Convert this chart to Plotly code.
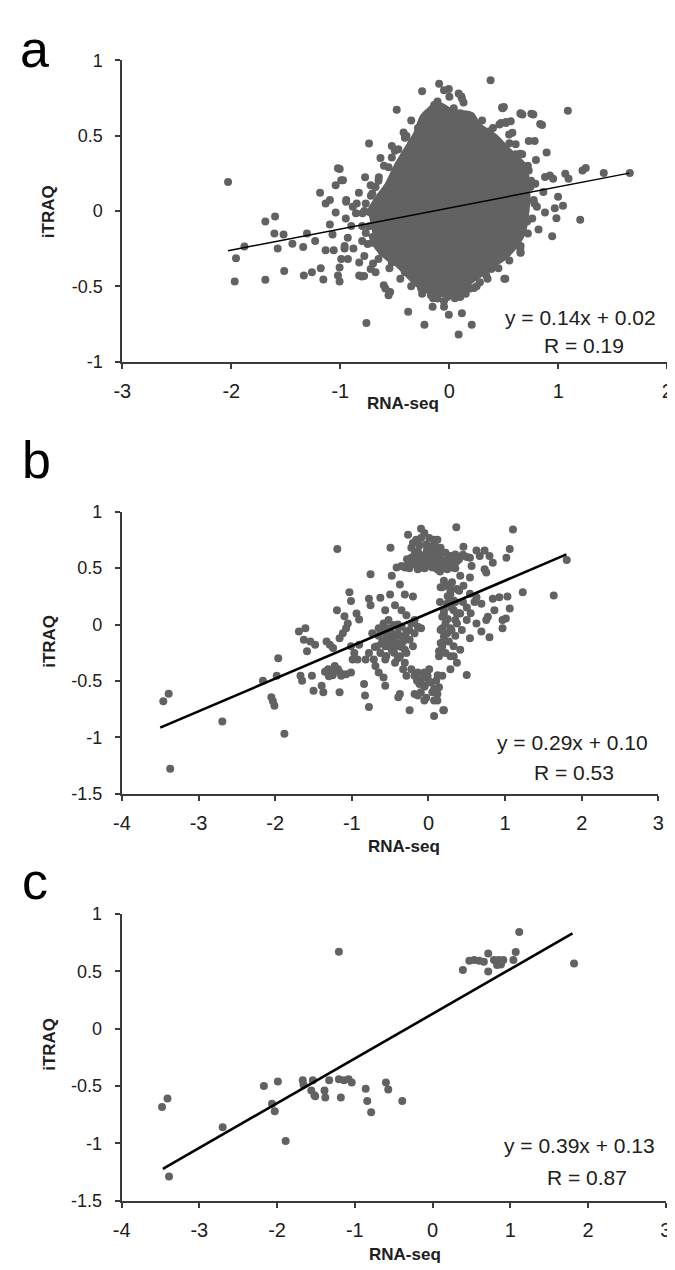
import plotly.graph_objects as go

W, H = 675, 1270

# ---------------- data ----------------
# Panel a : points around the dense cloud
a_x = [-2.03, -1.957, -1.969, -1.88, -1.688, -1.599, -1.605, -1.521, -1.575, -1.688, -1.515, -1.44,
       -1.341, -1.306, -1.231, -1.335, -1.261, -1.18, -1.156, -1.186, -1.135, -1.096, -1.022, -0.992,
       -1.043, -1.043, -1.096, -1.072, -1.135, -1.061, -0.992, -1.007, -1.022, -1.007, -0.962, -0.947,
       -0.932,
       0.378, -0.094, -0.25, -0.049, 0.0, 0.085, 0.115, -0.483, 0.489, 0.653, -0.737, -0.632, -0.528,
       -0.393, -0.773, -0.722, -0.946, -0.803, -0.602, -0.543, -0.378, -0.761, -0.229, -0.154, -0.049,
       -0.005, 0.085, 0.115, 0.205, 0.1, 0.504, 0.653, 0.226,
       0.483, 0.653, 0.752, 1.087, 0.563, 0.519, 0.474, 0.833, 0.578, 0.728, 0.782, 0.892, 0.794,
       1.221, 1.251, 1.416, 1.655, 1.063, 1.093, 0.877, 0.922, 0.952, 0.788, 0.862, 0.997, 1.042,
       0.967, 0.773, 0.803, 0.877, 0.982, 1.2, 0.713, 0.818, 0.943, 0.653, 0.653, 0.513,
       -0.005, 0.11, 0.13, 0.67, 0.77, 0.85, 0.5,
       -1.006, -0.976, -0.886, -0.857, -0.961, -0.931, -0.827, -0.827, -0.782, -0.722, -0.677,
       -0.587, -0.558, -0.408, -0.259, -0.169, -0.109, -0.019, 0.13, 0.19, 0.28, 0.339, 0.384,
       -0.288, -0.244, -0.199, -0.139, -0.109, -0.064, 0.04, 0.1, 0.145, 0.25, 0.28, 0.369, 0.459,
       0.519, 0.548, 0.608, 0.668, -0.408, -0.348, -0.468, -0.528, -0.558, -0.647, -0.677, -0.707,
       -0.767, -0.797, -0.737, -0.767, -0.707, -0.617, -0.528,
       0.608, 0.728, 0.743, 0.698, 0.608, 0.489,
       -0.9, -0.85, -0.8, -0.88, -0.95, -0.83, -0.78, -0.7, -0.65, -0.6, -0.5, -0.42, -0.35, 0.3,
       0.4, 0.55, 0.65, 0.72, 0.75, 0.78, 0.76, 0.72, 0.65, 0.55, 0.45, 0.35, 0.25, 0.15, 0.05,
       -0.05, -0.15, -0.25, -0.35, -0.45, -0.55, -0.65, -0.75, -0.8, -0.78, -0.72]
a_y = [0.192, -0.314, -0.468, -0.237, -0.07, -0.037, -0.15, -0.157, -0.25, -0.457, -0.399, -0.218,
       -0.24, -0.15, -0.2, -0.429, -0.407, -0.381, -0.455, 0.12, 0.05, 0.072, 0.283, 0.203,
       0.17, -0.011, -0.091, -0.157, -0.261, -0.261, -0.32, -0.375, -0.429, -0.468, -0.25, 0.061,
       -0.179,
       0.867, 0.845, 0.795, 0.802, 0.758, 0.78, 0.747, 0.671, 0.682, 0.649, 0.447, 0.351, 0.431,
       0.497, 0.224, 0.17, 0.072, -0.436, -0.494, -0.538, -0.669, -0.745, -0.756, -0.636, -0.636,
       -0.69, -0.821, -0.68, -0.756, -0.571, -0.451, -0.277, -0.512,
       0.686, 0.645, 0.645, 0.665, 0.595, 0.59, 0.584, 0.577, 0.519, 0.464, 0.464, 0.388, 0.338,
       0.268, 0.285, 0.251, 0.251, 0.246, 0.214, 0.225, 0.235, 0.214, 0.181, 0.126, 0.094, 0.035,
       0.018, 0.072, 0.028, -0.011, -0.048, -0.059, -0.07, -0.124, -0.168, -0.233, -0.277, -0.451,
       0.81, 0.76, 0.72, 0.64, 0.64, 0.57, 0.69,
       0.279, 0.203, 0.028, -0.015, -0.233, -0.32, -0.342, -0.429, -0.433, -0.386, -0.407,
       -0.516, -0.56, -0.407, -0.516, -0.56, -0.582, -0.571, -0.538, -0.516, -0.473, -0.429, -0.386,
       0.551, 0.606, 0.638, 0.704, 0.726, 0.682, 0.682, 0.649, 0.638, 0.573, 0.551, 0.529, 0.573,
       0.584, 0.508, 0.442, 0.377, 0.486, 0.453, 0.41, 0.355, 0.29, 0.224, 0.159, 0.116,
       0.05, -0.015, -0.102, -0.146, -0.211, -0.277, -0.342,
       0.377, 0.268, 0.159, 0.05, -0.102, -0.233,
       -0.1, 0.05, -0.2, -0.25, -0.05, 0.12, -0.3, -0.35, 0.2, 0.3, 0.4, 0.52, 0.6, 0.6,
       0.55, 0.45, 0.38, 0.3, 0.2, 0.05, -0.05, -0.15, -0.25, -0.33, -0.38, -0.45, -0.5, -0.55, -0.58,
       -0.6, -0.58, -0.55, -0.5, -0.45, -0.38, -0.32, -0.22, -0.1, 0.0, 0.1]

# Panel a : outline of the solid, densely packed core of the cloud
a_core_x = [-0.737, -0.647, -0.558, -0.468, -0.378, -0.288, -0.229, -0.169, -0.109, -0.019, 0.07,
            0.19, 0.25, 0.309, 0.399, 0.489, 0.578, 0.668, 0.698, 0.683, 0.653, 0.578, 0.489,
            0.399, 0.28, 0.19, 0.1, -0.019, -0.109, -0.199, -0.288, -0.378, -0.468, -0.558,
            -0.647, -0.707]
a_core_y = [-0.037, 0.072, 0.159, 0.29, 0.399, 0.508, 0.617, 0.66, 0.693, 0.66, 0.638, 0.627,
            0.551, 0.529, 0.486, 0.421, 0.355, 0.29, 0.116, -0.037, -0.146, -0.233, -0.298,
            -0.342, -0.407, -0.451, -0.516, -0.538, -0.538, -0.516, -0.473, -0.407, -0.342, -0.298,
            -0.233, -0.146]

# Panel b
b_x = [-3.46, -3.39, -3.37, -2.69, -2.16, -1.96, -1.98, -2.05, -2.03, -2.01, -1.88,
       -0.224, -0.182, -0.139, -0.118, -0.054, 0.009, 0.073, 0.137, 0.201, 0.265, 0.328, 0.371,
       -0.309, -0.246, -0.182, -0.139, -0.076, -0.012, 0.052, 0.116, 0.18, 0.243, 0.307,
       -0.203, -0.161, -0.033, 0.031, 0.095, 0.158, 0.222, 0.286, 0.35, -0.097, -0.224, -0.267,
       0.009, 0.073, -0.416, -0.352,
       0.201, 0.243, 0.286, 0.328, 0.265, 0.201, 0.18, 0.222, 0.286, 0.35, 0.371, 0.158, 0.201,
       0.265, 0.328, 0.18, 0.222, 0.286, 0.371, 0.137,
       -0.734, -0.65, -0.586, -0.522, -0.458, -0.394, -0.479, -0.543, -0.607, -0.671, -0.628,
       -0.564, -0.479, -0.416, -0.352, -0.288, -0.246, -0.203, -0.309, -0.373, -0.437, -0.713,
       -0.777, -0.82, -0.692, -0.65, -0.586, -0.564, -0.841, -0.828, -0.777, -0.394, -0.373,
       -0.246, -0.182, -0.139, -0.097, -0.054, -0.012, 0.031, 0.073, 0.009, -0.054, -0.118,
       -0.182, -0.224, -0.309, -0.331, -0.288, 0.073, 0.116, 0.201, 0.073, -0.054, -0.139,
       -0.288, -0.182, -0.139, -0.097, -0.224, -0.182, -0.522, -0.437, -0.394, -0.564, -0.501,
       -0.458, -0.331,
       -1.691, -1.606, -1.627, -1.542, -1.479, -1.585, -1.33, -1.287, -1.245, -1.16, -1.117,
       -1.075, -1.011, -0.968, -0.99, -0.905, -1.309, -1.245, -1.181, -1.138, -1.075, -1.011,
       -1.223, -1.67, -1.649, -1.521, -1.5, -1.394, -1.372, -1.16, -0.926,
       -0.756, -1.032, -1.011, -1.194, -1.096, -1.053, -0.939, -0.905, -0.777, -0.756, -0.628,
       -0.501, -0.479, -0.373, -0.309, -0.203, -0.565, -0.437, -0.352, -0.288, -0.496, -0.267,
       -0.097, -0.054, 0.009, 0.073, -1.19, 0.158,
       0.363, 1.102, 1.06, 1.017, 0.456, 0.626, 0.732, 0.669, 0.796, 0.839, 0.541, 0.562, 0.435,
       0.371, 0.286, 0.2, 0.137, 0.116, 0.732, 0.754, 0.414, 0.541, 0.307, 0.18, 0.286, 0.371,
       0.456, 0.541, 0.626, 0.69, 0.839, 0.924, 1.03, 1.06, 1.23, 1.634, 1.804, 0.86, 0.775,
       0.754, 0.966, 1.009, 0.966, 0.796, 0.69, 0.626, 0.541, 0.499, 0.414, 0.329, 0.244, 0.201,
       0.18, 0.244, 0.435, 0.159, 0.414, 0.329, 0.286, 0.499, 0.18, 0.137, 0.116, 0.193, 0.137,
       0.371,
       -0.28, -0.2, -0.1, 0.0, 0.1, 0.2, 0.3, -0.15, -0.05, 0.05, 0.15, 0.25, -0.25, -0.05, 0.15,
       0.35, 0.4, 0.45, 0.5, -0.12, -0.02, 0.08,
       -0.6, -0.55, -0.5, -0.45, -0.4, -0.35, -0.3, -0.5, -0.45, -0.6, -0.65, -0.7, -0.35, -0.25,
       -0.4, -0.55, -0.4,
       0.25, 0.3, 0.35, 0.4, 0.45, 0.5, 0.25, 0.3, 0.2, 0.15, 0.4, 0.55, 0.6, 0.35, 0.28,
       -0.15, -0.05, 0.05, 0.0, -0.1, 0.1, -0.03, 0.12,
       -1.35, -1.25, -1.15, -1.3]
b_y = [-0.68, -0.615, -1.28, -0.86, -0.50, -0.30, -0.455, -0.645, -0.68, -0.72, -0.97,
       0.68, 0.622, 0.651, 0.593, 0.563, 0.593, 0.549, 0.534, 0.549, 0.534, 0.549, 0.563,
       0.505, 0.52, 0.534, 0.491, 0.505, 0.52, 0.505, 0.491, 0.505, 0.491, 0.505,
       0.724, 0.753, 0.709, 0.694, 0.651, 0.68, 0.636, 0.607, 0.622, 0.767, 0.593, 0.563,
       0.636, 0.607, 0.505, 0.52,
       0.389, 0.345, 0.272, 0.214, 0.185, 0.127, 0.069, 0.01, -0.033, 0.039, 0.098, -0.048, -0.106,
       -0.15, -0.193, -0.193, -0.252, -0.281, -0.339, -0.281,
       -0.077, -0.033, 0.01, 0.039, -0.004, -0.019, -0.077, -0.121, -0.164, -0.193, -0.252,
       -0.31, -0.223, -0.164, -0.106, -0.062, -0.135, -0.193, -0.223, -0.281, -0.339, -0.31,
       -0.252, -0.31, -0.368, -0.426, -0.47, -0.543, -0.528, -0.63, -0.732, -0.645, -0.616,
       -0.761, -0.616, -0.426, -0.485, -0.543, -0.455, -0.514, -0.572, -0.397, -0.426, -0.528,
       -0.455, -0.397, -0.339, -0.397, -0.455, -0.674, -0.616, -0.761, -0.811, -0.674, -0.63,
       -0.252, -0.077, -0.019, -0.033, 0.01, 0.039, -0.033, -0.106, -0.193, -0.193, -0.164,
       -0.135, -0.15,
       -0.062, -0.033, -0.135, -0.15, -0.179, -0.237, -0.15, -0.179, -0.208, -0.121, -0.077,
       -0.033, -0.193, -0.252, -0.31, -0.179, -0.397, -0.426, -0.397, -0.455, -0.441, -0.426,
       -0.368, -0.455, -0.499, -0.455, -0.587, -0.543, -0.601, -0.601, -0.31,
       0.447, 0.287, 0.208, 0.127, 0.074, 0.01, 0.098, 0.045, 0.229, 0.17, 0.237,
       0.266, 0.432, 0.354, 0.266, 0.249, 0.127, 0.17, 0.127, 0.083, 0.68, 0.796,
       0.849, 0.811, 0.767, 0.753, 0.671, 0.331,
       0.863, 0.843, 0.671, 0.593, 0.689, 0.657, 0.657, 0.607, 0.607, 0.549, 0.593, 0.52, 0.607,
       0.563, 0.534, 0.563, 0.622, 0.753, 0.491, 0.462, 0.432, 0.418, 0.374, 0.331, 0.301, 0.316,
       0.345, 0.272, 0.243, 0.185, 0.229, 0.243, 0.249, 0.141, 0.287, 0.258, 0.572, 0.127, 0.069,
       0.04, 0.04, 0.054, -0.033, -0.112, -0.062, 0.01, -0.121, 0.04, 0.098, 0.127, 0.185, 0.098,
       -0.033, -0.077, -0.048, -0.164, -0.223, -0.281, -0.397, -0.447, -0.455, -0.557, -0.674,
       -0.761, -0.237, 0.01,
       0.58, 0.56, 0.55, 0.55, 0.56, 0.52, 0.52, 0.6, 0.62, 0.6, 0.59, 0.58, 0.5, 0.5, 0.47,
       0.5, 0.58, 0.62, 0.6, 0.7, 0.66, 0.7,
       -0.05, -0.1, -0.05, -0.12, -0.08, -0.02, -0.1, -0.2, -0.25, -0.15, -0.1, -0.2, -0.2, -0.05,
       0.0, -0.28, -0.3,
       0.25, 0.15, 0.2, 0.1, 0.2, 0.15, 0.05, -0.05, -0.15, 0.2, 0.3, 0.1, 0.2, -0.1, 0.35,
       -0.5, -0.55, -0.6, -0.5, -0.6, -0.5, -0.65, -0.45,
       -0.42, -0.45, -0.43, -0.46]

# Panel c
c_x = [-3.48, -3.41, -3.39, -2.70, -2.17, -1.99, -2.065, -2.03, -1.89, -1.67, -1.54, -1.66,
       -1.56, -1.51, -1.205, 0.39, 0.473, 0.536, 0.60, 0.66, 0.716, 0.716, 0.79, 0.83, 0.91,
       0.85, 0.88, 1.04, 1.07, 1.115, 1.82,
       -1.52, -1.33, -1.39, -1.38, -1.205, -1.14, -1.08, -1.04, -1.18, -0.86, -0.84, -0.79,
       -0.60, -0.57, -0.39]
c_y = [-0.684, -0.61, -1.29, -0.86, -0.50, -0.46, -0.655, -0.72, -0.98, -0.45, -0.45, -0.49,
       -0.54, -0.59, 0.671, 0.513, 0.593, 0.60, 0.593, 0.585, 0.657, 0.50, 0.60, 0.556, 0.60,
       0.60, 0.56, 0.60, 0.67, 0.844, 0.57,
       -0.58, -0.45, -0.54, -0.60, -0.44, -0.45, -0.44, -0.47, -0.60, -0.525, -0.63, -0.73,
       -0.47, -0.53, -0.63]

# trend lines (y = slope*x + intercept) and the x-span they cover
fits = {
    "a": dict(slope=0.14, intercept=0.02, x0=-2.03, x1=1.65, width=1.5),
    "b": dict(slope=0.29, intercept=0.10, x0=-3.50, x1=1.80, width=2.6),
    "c": dict(slope=0.39, intercept=0.13, x0=-3.47, x1=1.80, width=2.6),
}
eq_text = {"a": ("y = 0.14x + 0.02", "R = 0.19"),
           "b": ("y = 0.29x + 0.10", "R = 0.53"),
           "c": ("y = 0.39x + 0.13", "R = 0.87")}

a_xticks = [-3, -2, -1, 0, 1, 2]
bc_xticks = [-4, -3, -2, -1, 0, 1, 2, 3]
a_yticks = [-1, -0.5, 0, 0.5, 1]
a_yticktext = ["-1", "-0.5", "0", "0.5", "1"]
bc_yticks = [-1.5, -1, -0.5, 0, 0.5, 1]
bc_yticktext = ["-1.5", "-1", "-0.5", "0", "0.5", "1"]

# ---------------- figure ----------------
GRAY = "#626262"
AX = "#3a3a3a"
MS = 8


def fx(px):
    return px / W


def fy(py):
    return 1 - py / H


fig = go.Figure()

fig.add_trace(go.Scatter(x=a_core_x, y=a_core_y, mode="lines", fill="toself",
                         fillcolor=GRAY, line=dict(color=GRAY, width=10, shape="spline"),
                         xaxis="x", yaxis="y", hoverinfo="skip"))
fig.add_trace(go.Scatter(x=a_x, y=a_y, mode="markers", marker=dict(size=MS, color=GRAY),
                         xaxis="x", yaxis="y"))
fig.add_trace(go.Scatter(x=b_x, y=b_y, mode="markers", marker=dict(size=MS, color=GRAY),
                         xaxis="x2", yaxis="y2"))
fig.add_trace(go.Scatter(x=c_x, y=c_y, mode="markers", marker=dict(size=MS, color=GRAY),
                         xaxis="x3", yaxis="y3"))
for key, (xa, ya) in zip(["a", "b", "c"], [("x", "y"), ("x2", "y2"), ("x3", "y3")]):
    f = fits[key]
    xs = [f["x0"], f["x1"]]
    ys = [f["slope"] * v + f["intercept"] for v in xs]
    fig.add_trace(go.Scatter(x=xs, y=ys, mode="lines",
                             line=dict(color="black", width=f["width"]),
                             xaxis=xa, yaxis=ya))

tickfont_y = dict(family="Liberation Sans, Arial", size=18, color="#202020")
tickfont_x = dict(family="Liberation Sans, Arial", size=20, color="#202020")


def xax(domain, rng, ticks, anchor):
    return dict(domain=domain, range=rng, tickvals=ticks, ticktext=[str(t) for t in ticks],
                showgrid=False, zeroline=False, showline=True, linecolor=AX, linewidth=2,
                ticks="outside", ticklen=5, tickwidth=1.5, tickcolor=AX, tickfont=tickfont_x,
                ticklabelstandoff=5, anchor=anchor, fixedrange=True)


def yax(domain, rng, ticks, text, anchor):
    return dict(domain=domain, range=rng, tickvals=ticks, ticktext=text,
                showgrid=False, zeroline=False, showline=True, linecolor=AX, linewidth=2,
                ticks="outside", ticklen=5, tickwidth=1.5, tickcolor=AX, tickfont=tickfont_y,
                ticklabelstandoff=9, anchor=anchor, fixedrange=True)


fig.update_layout(
    width=W, height=H, margin=dict(l=0, r=0, t=0, b=0),
    paper_bgcolor="white", plot_bgcolor="rgba(0,0,0,0)", showlegend=False,
    xaxis=xax([fx(107.7), fx(665.2)], [-3, 2], a_xticks, "y"),
    yaxis=yax([fy(349), fy(43)], [-1, 1], a_yticks, a_yticktext, "x"),
    xaxis2=xax([fx(107.3), fx(656)], [-4, 3], bc_xticks, "y2"),
    yaxis2=yax([fy(788), fy(501.7)], [-1.5, 1], bc_yticks, bc_yticktext, "x2"),
    xaxis3=xax([fx(107), fx(663.5)], [-4, 3], bc_xticks, "y3"),
    yaxis3=yax([fy(1201.5), fy(910.5)], [-1.5, 1], bc_yticks, bc_yticktext, "x3"),
)

ann = []
letter_font = dict(family="Liberation Sans, Arial", size=52, color="black")
ann.append(dict(text="a", x=fx(18), y=1, xref="paper", yref="paper",
                xanchor="center", yanchor="top", showarrow=False, font=letter_font))
for txt, cx, cy in [("b", 19.5, 449), ("c", 18, 877)]:
    ann.append(dict(text=txt, x=fx(cx), y=fy(cy), xref="paper", yref="paper",
                    xanchor="center", yanchor="middle", showarrow=False, font=letter_font))

title_font = dict(family="Liberation Sans, Arial", size=17, color="#202020")
for cy in [197, 633.5, 1043]:
    ann.append(dict(text="<b>iTRAQ</b>", x=fx(33), y=fy(cy), xref="paper", yref="paper",
                    xanchor="center", yanchor="middle", textangle=-90, showarrow=False,
                    font=title_font))
for cx, cy in [(395, 392), (396, 842), (397, 1256)]:
    ann.append(dict(text="<b>RNA-seq</b>", x=fx(cx), y=fy(cy), xref="paper", yref="paper",
                    xanchor="center", yanchor="middle", showarrow=False, font=title_font))

eq_font = dict(family="Liberation Sans, Arial", size=21, color="#202020")
eq_pos = {"a": ((576, 304), (580, 333)), "b": ((568, 736), (569.5, 767)),
          "c": ((575, 1146), (582.5, 1178))}
for key in ["a", "b", "c"]:
    for txt, (cx, cy) in zip(eq_text[key], eq_pos[key]):
        ann.append(dict(text=txt, x=fx(cx), y=fy(cy), xref="paper", yref="paper",
                        xanchor="center", yanchor="middle", showarrow=False, font=eq_font))

fig.update_layout(annotations=ann)
fig.write_html("out.html")
